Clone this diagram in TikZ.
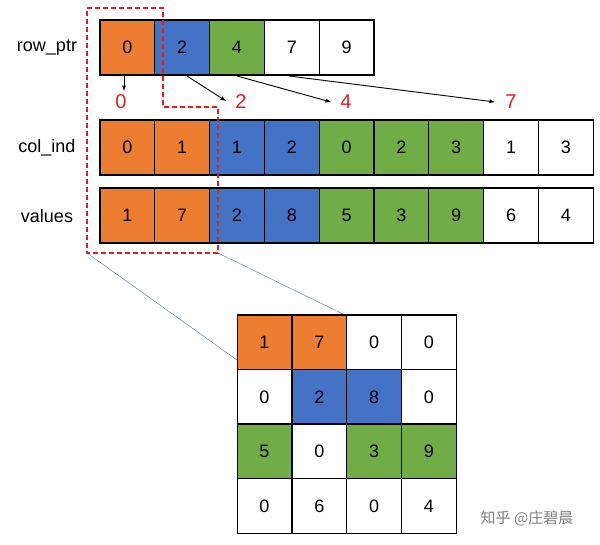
\documentclass[tikz,border=0pt]{standalone}
\usepackage{fontspec}
\setmainfont{Liberation Sans}
\newfontfamily\cjk{Noto Sans CJK SC}
\definecolor{cOr}{HTML}{ED7D31}
\definecolor{cBl}{HTML}{4472C4}
\definecolor{cGr}{HTML}{70AD47}
\definecolor{cRd}{HTML}{E02020}
\tikzset{
  cell/.style={draw=black, line width=1.2pt, minimum width=54.8pt, minimum height=55pt, inner sep=0pt, font=\fontsize{18}{20}\selectfont},
  lbl/.style={font=\fontsize{18}{20}\selectfont},
  ptrnum/.style={text=cRd, font=\fontsize{20}{22}\selectfont},
  ptrarrow/.style={-latex, line width=0.9pt}
}
\begin{document}
\begin{tikzpicture}[x=1pt, y=-1pt]
  \useasboundingbox (0,0) rectangle (600,544);

  % row_ptr
  \node[lbl] (lrow) at (47,48) {row\_ptr};
  \foreach \v/\c [count=\i] in {0/cOr, 2/cBl, 4/cGr, 7/white, 9/white}
    \node[cell, fill=\c] (r\i) at (127.4+54.8*\i-54.8, 47.5) {\v};

  % col_ind and values
  \node[lbl] (lcol) at (47,148) {col\_ind};
  \node[lbl] (lval) at (47,216) {values};
  \foreach \v/\c [count=\i] in {0/cOr, 1/cOr, 1/cBl, 2/cBl, 0/cGr, 2/cGr, 3/cGr, 1/white, 3/white}
    \node[cell, fill=\c] (c\i) at (127.4+54.8*\i-54.8, 147.5) {\v};
  \foreach \v/\c [count=\i] in {1/cOr, 7/cOr, 2/cBl, 8/cBl, 5/cGr, 3/cGr, 9/cGr, 6/white, 4/white}
    \node[cell, fill=\c] (v\i) at (127.4+54.8*\i-54.8, 215.5) {\v};

  % pointers
  \node[ptrnum] (p0) at (121,102) {0};
  \node[ptrnum] (p2) at (241,102) {2};
  \node[ptrnum] (p4) at (346,102) {4};
  \node[ptrnum] (p7) at (511,102) {7};
  \draw[ptrarrow] (124,76) -- (124,91);
  \draw[ptrarrow] (187,76) -- (226,101);
  \draw[ptrarrow] (237,76) -- (331,102);
  \draw[ptrarrow] (289,76) -- (495,102);

  % highlighted first row
  \draw[cRd, line width=1.8pt, dash pattern=on 5pt off 3pt] (87,8) -- (163,8) -- (163,107) -- (218,107)
    -- (218,253) -- (87,253) -- cycle;
  \draw[cBl, thin] (87,253) -- (237,360);
  \draw[cBl, thin] (218,253) -- (345,315);

  % dense matrix
  \foreach \row/\vals in {1/{1/cOr,7/cOr,0/white,0/white}, 2/{0/white,2/cBl,8/cBl,0/white},
                          3/{5/cGr,0/white,3/cGr,9/cGr}, 4/{0/white,6/white,0/white,4/white}}
    \foreach \v/\c [count=\j] in \vals
      \node[cell, fill=\c] (m\row\j) at (264.5+54.8*\j-54.8, 342.5+54.5*\row-54.5) {\v};

  \node[text=gray, font=\cjk\fontsize{15}{17}\selectfont] (wm) at (527,518) {知乎 @庄碧晨};
\end{tikzpicture}
\end{document}
